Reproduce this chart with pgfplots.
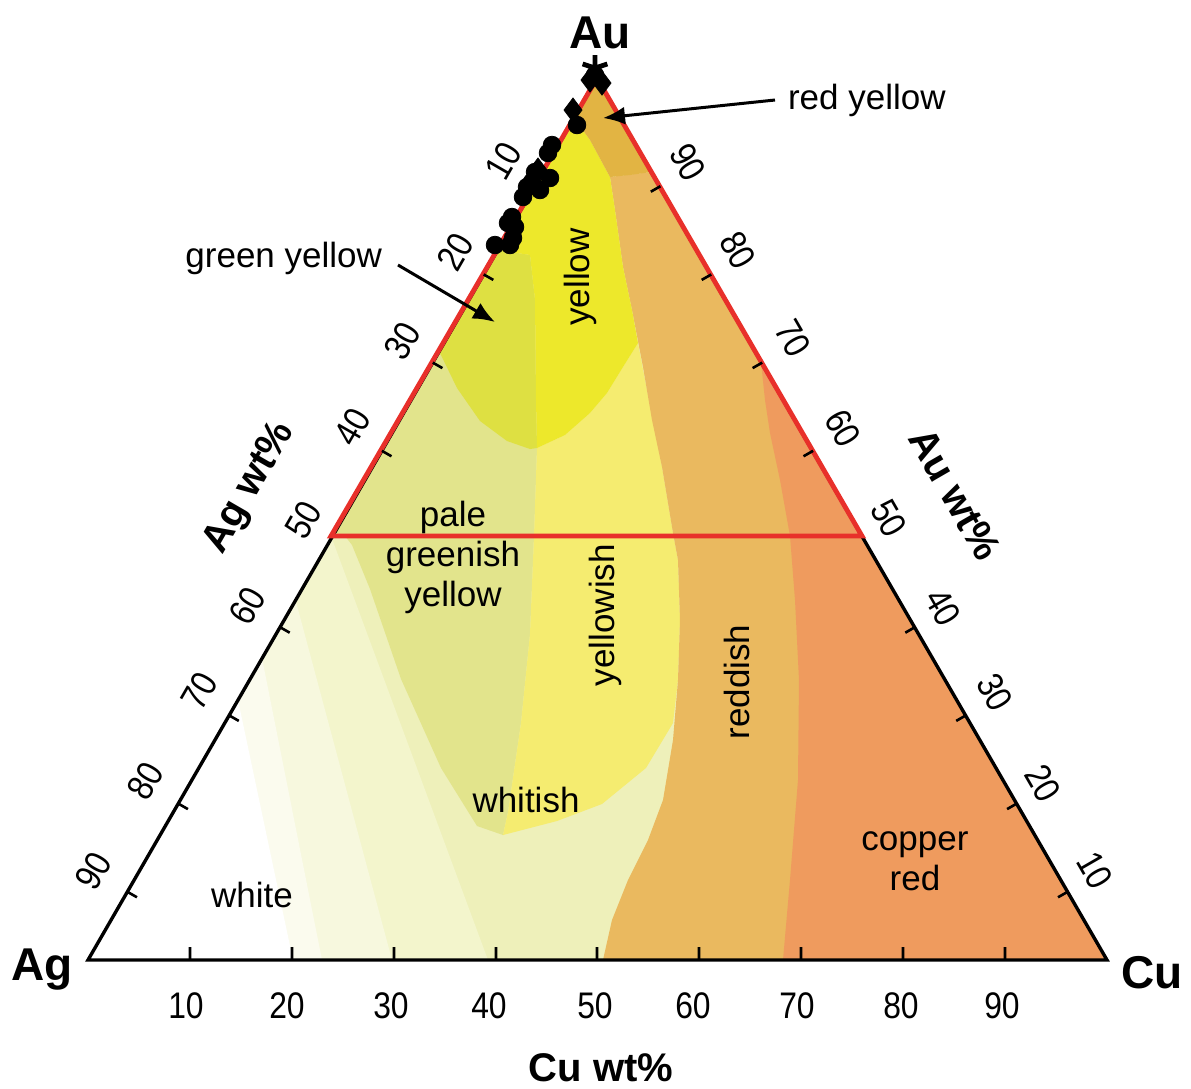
\documentclass[border=0pt]{standalone}
\usepackage{graphicx}
\usepackage{pgfplots}
\pgfplotsset{compat=1.18}
\usepackage{fontspec}
\setmainfont{Liberation Sans}
\usetikzlibrary{arrows.meta}
\definecolor{cWhitish}{RGB}{238,240,186}
\definecolor{cBandA}{RGB}{243,245,204}
\definecolor{cBandB}{RGB}{247,248,222}
\definecolor{cBandC}{RGB}{251,251,238}
\definecolor{cPale}{RGB}{226,228,140}
\definecolor{cYellowish}{RGB}{245,236,112}
\definecolor{cReddish}{RGB}{234,185,95}
\definecolor{cCopper}{RGB}{239,155,94}
\definecolor{cGreenY}{RGB}{222,224,66}
\definecolor{cYellow}{RGB}{237,232,43}
\definecolor{cRedY}{RGB}{226,180,67}
\definecolor{cRedLine}{RGB}{232,48,42}
\newcommand\lab{\fontsize{17.5}{20}\selectfont}
\newcommand\tk[1]{\scalebox{0.86}[1]{\fontsize{18.5}{20}\selectfont #1}}
\newcommand\bigcorner{\fontsize{23}{26}\selectfont\bfseries}
\newcommand\ttl{\fontsize{20}{24}\selectfont\bfseries}
\begin{document}
\begin{tikzpicture}
\begin{axis}[width=595.5pt,height=544.5pt,scale only axis,
  xmin=0,xmax=1191,ymin=0,ymax=1089,y dir=reverse,hide axis,clip=false]
\path (axis cs:0,0) rectangle (axis cs:1191,1089);
% base
\addplot[fill=cWhitish,draw=none] coordinates {(88,960) (597,78) (1107,960)} -- cycle;
% whitish bands near Ag
\addplot[fill=cBandA,draw=none] coordinates {(88,960) (331,536) (488,960)} -- cycle;
\addplot[fill=cBandB,draw=none] coordinates {(88,960) (295,598) (392,960)} -- cycle;
\addplot[fill=cBandC,draw=none] coordinates {(88,960) (262,658) (322,960)} -- cycle;
\addplot[fill=white,draw=none] coordinates {(88,960) (238,700) (293,960)} -- cycle;
% pale greenish yellow
\addplot[fill=cPale,draw=none] coordinates {(331,536) (440,353) (498,250) (530,255) (535,300) (536,400) (537,448) (534,536) (530,634) (521,723) (508,812) (503,835) (477,826) (441,768) (401,679) (370,589) (352,545) (345,536)} -- cycle;
% yellowish
\addplot[fill=cYellowish,draw=none] coordinates {(537,448) (565,435) (590,413) (607,393) (623,367) (638,343) (645,380) (655,430) (662,467) (673,533) (678,560) (680,620) (678,680) (673,723) (646,768) (602,804) (557,821) (503,835) (508,812) (521,723) (530,634) (534,536)} -- cycle;
% reddish
\addplot[fill=cReddish,draw=none] coordinates {(651,172) (761,362) (1107,960) (603,960) (612,920) (628,880) (648,840) (663,800) (673,740) (678,680) (680,620) (678,560) (673,533) (662,467) (652,420) (643,367) (632,310) (623,267) (615,210) (610,177)} -- cycle;
% copper red
\addplot[fill=cCopper,draw=none] coordinates {(761,362) (765,400) (770,433) (780,480) (790,536) (795,600) (799,680) (798,780) (790,880) (783,960) (1107,960)} -- cycle;
% green yellow
\addplot[fill=cGreenY,draw=none] coordinates {(498,250) (530,255) (535,300) (536,400) (537,448) (530,449) (507,441) (480,421) (457,388) (440,353)} -- cycle;
% yellow
\addplot[fill=cYellow,draw=none] coordinates {(574,118) (498,250) (530,255) (535,300) (536,400) (537,448) (565,435) (590,413) (607,393) (623,367) (638,343) (632,310) (623,267) (615,210) (610,177) (590,140)} -- cycle;
% red yellow
\addplot[fill=cRedY,draw=none] coordinates {(597,78) (651,172) (630,175) (610,177) (590,140) (574,118)} -- cycle;
% outline
\addplot[black,line width=1.7pt,line join=miter] coordinates {(88,960) (597,78) (1107,960)} -- cycle;
\addplot[cRedLine,line width=2.4pt,line join=miter] coordinates {(331,536) (597,78) (862,536)} -- cycle;
% ticks
\draw[black,line width=1.3pt]
 (axis cs:190,960) -- (axis cs:190,947) (axis cs:292,960) -- (axis cs:292,947)
 (axis cs:394,960) -- (axis cs:394,947) (axis cs:496,960) -- (axis cs:496,947)
 (axis cs:597,960) -- (axis cs:597,947) (axis cs:699,960) -- (axis cs:699,947)
 (axis cs:801,960) -- (axis cs:801,947) (axis cs:903,960) -- (axis cs:903,947)
 (axis cs:1005,960) -- (axis cs:1005,947)
 (axis cs:127.4,891.8) -- (axis cs:137,897.3) (axis cs:178.3,803.6) -- (axis cs:187.9,809.1)
 (axis cs:229.2,715.4) -- (axis cs:238.8,720.9) (axis cs:280.1,627.2) -- (axis cs:289.7,632.7)
 (axis cs:381.9,450.8) -- (axis cs:391.5,456.3) (axis cs:432.8,362.6) -- (axis cs:442.4,368.1)
 (axis cs:483.7,274.4) -- (axis cs:493.3,279.9) (axis cs:534.6,186.2) -- (axis cs:544.2,191.7)
 (axis cs:1067.6,891.8) -- (axis cs:1058,897.3) (axis cs:1016.7,803.6) -- (axis cs:1007.1,809.1)
 (axis cs:965.8,715.4) -- (axis cs:956.2,720.9) (axis cs:914.9,627.2) -- (axis cs:905.3,632.7)
 (axis cs:813.1,450.8) -- (axis cs:803.5,456.3) (axis cs:762.2,362.6) -- (axis cs:752.6,368.1)
 (axis cs:711.3,274.4) -- (axis cs:701.7,279.9) (axis cs:660.4,186.2) -- (axis cs:650.8,191.7);
% data points
\addplot[only marks,mark=*,mark size=4.4pt,black] coordinates {(577,125) (552,145) (548,153) (535,172) (550,178) (532,182) (540,190) (527,187) (523,197) (512,217) (515,227) (508,223) (495,245) (510,245) (513,238)};
\addplot[only marks,mark=diamond*,mark size=6pt,black] coordinates {(573,110) (590,80) (602,83) (538,170)};
\addplot[only marks,mark=*,mark size=4.4pt,black] coordinates {(595,75)};
\addplot[only marks,mark=star,mark size=6.5pt,black,line width=2.4pt] coordinates {(595,68)};
% arrows
\draw[black,line width=1.5pt,-{Latex[length=11pt,width=9pt]}] (axis cs:775,100) -- (axis cs:603,118);
\draw[black,line width=1.5pt,-{Latex[length=11pt,width=9pt]}] (axis cs:398,265) -- (axis cs:495,322);
% region labels
\node[font=\lab,anchor=west] at (axis cs:781,100) {red yellow};
\node[font=\lab,anchor=east] at (axis cs:389,258) {green yellow};
\node[font=\lab,rotate=90] at (axis cs:580,277) {yellow};
\node[font=\lab,align=center] at (axis cs:453,557) {pale\\greenish\\yellow};
\node[font=\lab,rotate=90] at (axis cs:605,615) {yellowish};
\node[font=\lab,rotate=90] at (axis cs:737,682) {reddish};
\node[font=\lab] at (axis cs:526,800) {whitish};
\node[font=\lab] at (axis cs:252,895) {white};
\node[font=\lab,align=center] at (axis cs:915,861) {copper\\red};
% corner labels
\node[font=\bigcorner] at (axis cs:600,33) {Au};
\node[font=\bigcorner] at (axis cs:42,970) {Ag};
\node[font=\bigcorner] at (axis cs:1152,973) {Cu};
% axis titles
\node[font=\ttl] at (axis cs:601,1068) {Cu wt\%};
\node[font=\ttl,rotate=60] at (axis cs:250,488) {Ag wt\%};
\node[font=\ttl,rotate=-60] at (axis cs:955,494) {Au wt\%};
% bottom tick labels
\node at (axis cs:186,1006) {\tk{10}};
\node at (axis cs:287,1006) {\tk{20}};
\node at (axis cs:391,1006) {\tk{30}};
\node at (axis cs:489,1006) {\tk{40}};
\node at (axis cs:595,1006) {\tk{50}};
\node at (axis cs:693,1006) {\tk{60}};
\node at (axis cs:797,1006) {\tk{70}};
\node at (axis cs:901,1006) {\tk{80}};
\node at (axis cs:1002,1006) {\tk{90}};
% left tick labels (Ag wt%)
\node[rotate=60] at (axis cs:503,161) {\tk{10}};
\node[rotate=60] at (axis cs:455,252) {\tk{20}};
\node[rotate=60] at (axis cs:402,341) {\tk{30}};
\node[rotate=60] at (axis cs:352,427) {\tk{40}};
\node[rotate=60] at (axis cs:303,520) {\tk{50}};
\node[rotate=60] at (axis cs:247,606) {\tk{60}};
\node[rotate=60] at (axis cs:199,691) {\tk{70}};
\node[rotate=60] at (axis cs:145,781) {\tk{80}};
\node[rotate=60] at (axis cs:93,871) {\tk{90}};
% right tick labels (Au wt%)
\node[rotate=-60] at (axis cs:688,162) {\tk{90}};
\node[rotate=-60] at (axis cs:738,250) {\tk{80}};
\node[rotate=-60] at (axis cs:793,338) {\tk{70}};
\node[rotate=-60] at (axis cs:843,428) {\tk{60}};
\node[rotate=-60] at (axis cs:889,518) {\tk{50}};
\node[rotate=-60] at (axis cs:943,607) {\tk{40}};
\node[rotate=-60] at (axis cs:995,692) {\tk{30}};
\node[rotate=-60] at (axis cs:1043,783) {\tk{20}};
\node[rotate=-60] at (axis cs:1095,870) {\tk{10}};
\end{axis}
\end{tikzpicture}
\end{document}
